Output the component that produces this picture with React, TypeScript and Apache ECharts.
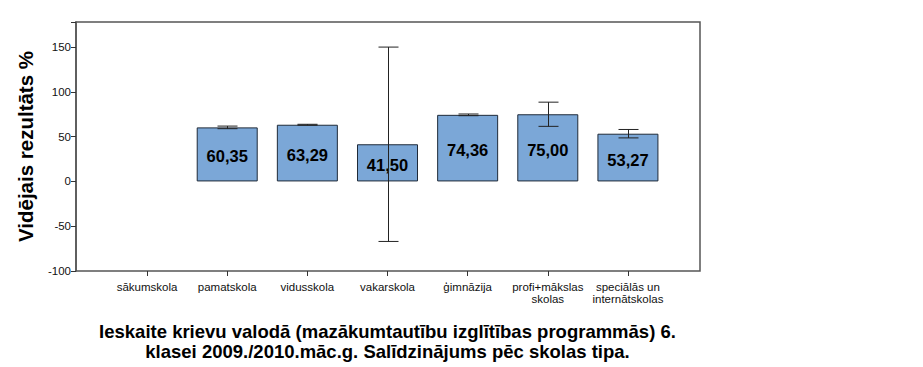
import React, { useEffect, useRef } from "react";
import * as echarts from "echarts";

const categories = [
  "sākumskola",
  "pamatskola",
  "vidusskola",
  "vakarskola",
  "ģimnāzija",
  "profi+mākslas\nskolas",
  "speciālās un\ninternātskolas",
];
const means: (number | null)[] = [null, 60.35, 63.29, 41.5, 74.36, 75.0, 53.27];
const errLow: (number | null)[] = [null, 58.9, 62.8, -67, 73.4, 61.5, 48.6];
const errHigh: (number | null)[] = [null, 61.8, 63.8, 150, 75.3, 88.5, 58.0];
const yTicks = [-100, -50, 0, 50, 100, 150];

const Y_MIN = -100;
const Y_MAX = 178;

export default function App() {
  const ref = useRef<HTMLDivElement>(null);
  useEffect(() => {
    if (!ref.current) return;
    const chart = echarts.init(ref.current, null, { renderer: "svg" });
    const font = "Arial, 'Liberation Sans', sans-serif";
    chart.setOption({
      animation: false,
      backgroundColor: "#ffffff",
      grid: [
        { left: 76, top: 22, width: 624, height: 249, show: true, borderColor: "#555", borderWidth: 1.5, backgroundColor: "transparent", containLabel: false, outerBoundsMode: "none" },
        { left: 107, top: 22, width: 561, height: 249, show: false, containLabel: false, outerBoundsMode: "none" },
      ],
      xAxis: [
        {
          gridIndex: 0,
          type: "value",
          min: 0,
          max: 1,
          show: false,
        },
        {
          gridIndex: 1,
          type: "category",
          data: categories,
          position: "bottom",
          axisLine: { show: false, onZero: false },
          axisTick: { show: true, alignWithLabel: true, length: 5, lineStyle: { color: "#333" } },
          axisLabel: { color: "#111", fontSize: 11.5, fontFamily: font, margin: 10, lineHeight: 12, interval: 0 },
          name: "Ieskaite krievu valodā (mazākumtautību izglītības programmās) 6.\nklasei 2009./2010.māc.g. Salīdzinājums pēc skolas tipa.",
          nameLocation: "middle",
          nameGap: 50,
          nameTextStyle: { fontSize: 18.5, fontWeight: "bold", color: "#000", fontFamily: font, lineHeight: 20 },
        },
      ],
      yAxis: [
        {
          gridIndex: 0,
          type: "value",
          min: Y_MIN,
          max: Y_MAX,
          interval: 50,
          axisLine: { show: true, lineStyle: { color: "#555", width: 1.5 } },
          axisTick: { show: true, length: 5, lineStyle: { color: "#333" } },
          axisLabel: {
            color: "#111",
            fontSize: 11.5,
            fontFamily: font,
            margin: 5,
            formatter: (v: number) => (yTicks.includes(v) ? String(v) : ""),
          },
          splitLine: { show: false },
          name: "Vidējais rezultāts %",
          nameLocation: "middle",
          nameGap: 40,
          nameTextStyle: { fontSize: 20.5, fontWeight: "bold", color: "#000", fontFamily: font },
        },
        {
          gridIndex: 1,
          type: "value",
          min: Y_MIN,
          max: Y_MAX,
          show: false,
          splitLine: { show: false },
        },
      ],
      series: [
        {
          type: "bar",
          xAxisIndex: 1,
          yAxisIndex: 1,
          data: means.map((v) => (v === null ? "-" : v)),
          barWidth: 61,
          itemStyle: { color: "#7ba7d7", borderColor: "#1f2a38", borderWidth: 1 },
          label: {
            show: true,
            position: "inside",
            offset: [0, 2],
            fontSize: 16.5,
            fontWeight: "bold",
            color: "#000",
            fontFamily: font,
            formatter: (p: any) => Number(p.value).toFixed(2).replace(".", ","),
          },
          z: 2,
        },
        {
          type: "custom",
          xAxisIndex: 1,
          yAxisIndex: 1,
          data: errLow.map((lo, i) => (lo === null ? [i, "-", "-"] : [i, lo, errHigh[i]])),
          z: 5,
          renderItem: (params: any, api: any) => {
            const lo = api.value(1);
            const hi = api.value(2);
            if (isNaN(lo) || isNaN(hi)) return null;
            const pLo = api.coord([api.value(0), lo]);
            const pHi = api.coord([api.value(0), hi]);
            const x = Math.round(pLo[0]) + 0.5;
            const half = 10;
            const st = { stroke: "#222", lineWidth: 1 };
            return {
              type: "group",
              children: [
                { type: "line", shape: { x1: x, y1: pHi[1], x2: x, y2: pLo[1] }, style: st },
                { type: "line", shape: { x1: x - half, y1: pHi[1], x2: x + half, y2: pHi[1] }, style: st },
                { type: "line", shape: { x1: x - half, y1: pLo[1], x2: x + half, y2: pLo[1] }, style: st },
              ],
            };
          },
        },
      ],
    });
    return () => chart.dispose();
  }, []);
  return <div ref={ref} style={{ position: "absolute", left: 0, top: 0, width: 923, height: 367 }} />;
}
